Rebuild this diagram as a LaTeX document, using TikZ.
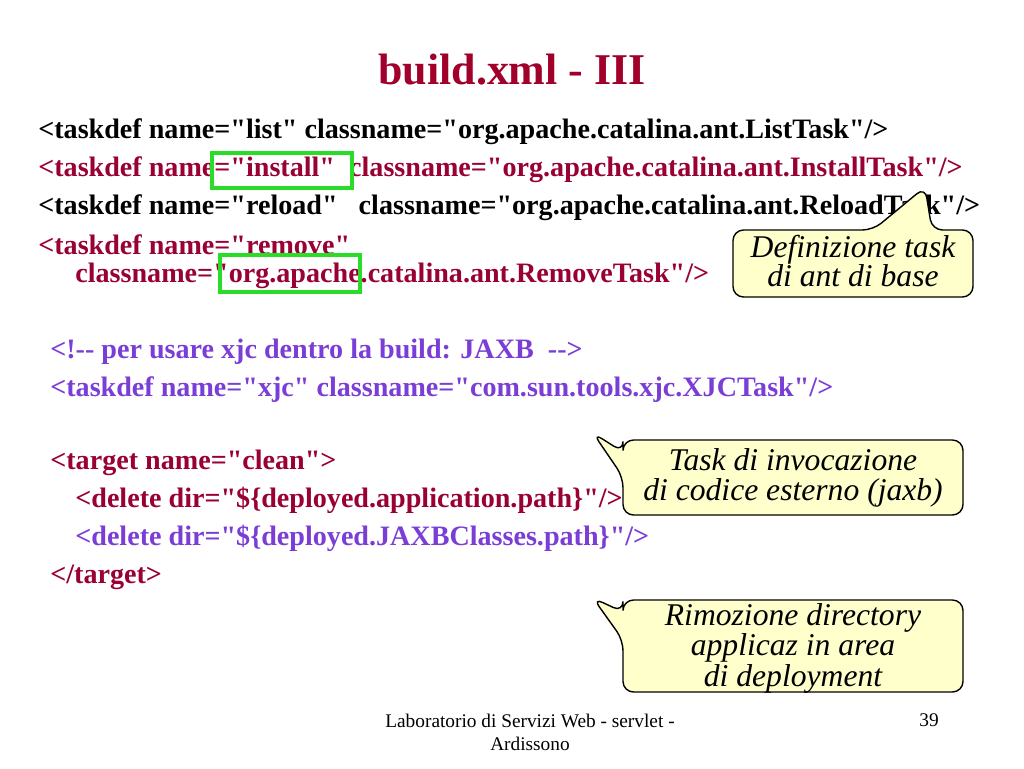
\documentclass[tikz,border=0pt]{standalone}
\usepackage{fontspec}
\setmainfont{Liberation Serif}[Ligatures=TeXOff]
\newcommand\dq{\char34\relax}
\definecolor{codered}{RGB}{153,0,51}
\definecolor{codeviolet}{RGB}{122,62,214}
\definecolor{titlered}{RGB}{160,0,42}
\definecolor{notefill}{RGB}{255,255,204}
\definecolor{markgreen}{RGB}{40,220,40}
\tikzset{
  code/.style={anchor=west,inner sep=0pt,font=\fontsize{16}{18}\selectfont\bfseries},
  note/.style={align=center,inner sep=0pt,font=\fontsize{18}{17}\selectfont\itshape},
  callout/.style={draw=black,fill=notefill,line width=0.8pt,rounded corners=6pt},
  marker/.style={draw=markgreen,line width=1.8pt}
}
\begin{document}
\begin{tikzpicture}[x=0.02cm,y=-0.02cm]
	\useasboundingbox (0,0) rectangle (1024,768);
	\node[text=titlered,font=\fontsize{25}{28}\selectfont\bfseries] (title) at (512,70) {build.xml - III};
	% taskdef di base
	\node[code] (l1) at (38,132) {<taskdef name=\dq list\dq{} classname=\dq org.apache.catalina.ant.ListTask\dq/>};
	\node[code,text=codered] (l2) at (38,170) {<taskdef name=\dq install\dq\ \ classname=\dq org.apache.catalina.ant.InstallTask\dq/>};
	\node[code] (l3) at (38,208) {<taskdef name=\dq reload\dq\ \ \ classname=\dq org.apache.catalina.ant.ReloadTask\dq/>};
	\node[code,text=codered] (l4) at (38,245) {<taskdef name=\dq remove\dq};
	\node[code,text=codered] (l5) at (75,276) {classname=\dq org.apache.catalina.ant.RemoveTask\dq/>};
	% xjc
	\node[code,text=codeviolet] (l6) at (50,352) {<!-{}- per usare xjc dentro la build: JAXB\ \ -{}->};
	\node[code,text=codeviolet] (l7) at (50,390) {<taskdef name=\dq xjc\dq{} classname=\dq com.sun.tools.xjc.XJCTask\dq/>};
	% target clean
	\node[code,text=codered] (l8) at (50,463) {<target name=\dq clean\dq>};
	\node[code,text=codered] (l9) at (75,500) {<delete dir=\dq\$\{deployed.application.path\}\dq/>};
	\node[code,text=codeviolet] (l10) at (75,538) {<delete dir=\dq\$\{deployed.JAXBClasses.path\}\dq/>};
	\node[code,text=codered] (l11) at (50,577) {</target>};
	% riquadri verdi
	\draw[marker] (212,153) rectangle (352,188);
	\draw[marker] (220,255) rectangle (360,292);
	% fumetti
	\draw[callout] (873,230) -- (925,187) -- (932,230) -- (973,230) -- (973,297) -- (733,297) -- (733,230) -- cycle;
	\node[note] (n1) at (853,261) {Definizione task\\di ant di base};
	\draw[callout] (623,452) -- (593,433) -- (623,477) -- (623,515) -- (963,515) -- (963,440) -- (623,440) -- cycle;
	\node[note] (n2) at (793,478) {Task di invocazione\\di codice esterno (jaxb)};
	\draw[callout] (623,612) -- (593,598) -- (623,640) -- (623,692) -- (963,692) -- (963,600) -- (623,600) -- cycle;
	\node[note,font=\fontsize{18}{15.5}\selectfont\itshape] (n3) at (793,648) {Rimozione directory\\applicaz in area\\di deployment};
	% pie di pagina
	\node[align=center,font=\fontsize{11}{13}\selectfont] (foot) at (530,732) {Laboratorio di Servizi Web - servlet -\\Ardissono};
	\node[font=\fontsize{11}{13}\selectfont] (page) at (929,720) {39};
\end{tikzpicture}
\end{document}
